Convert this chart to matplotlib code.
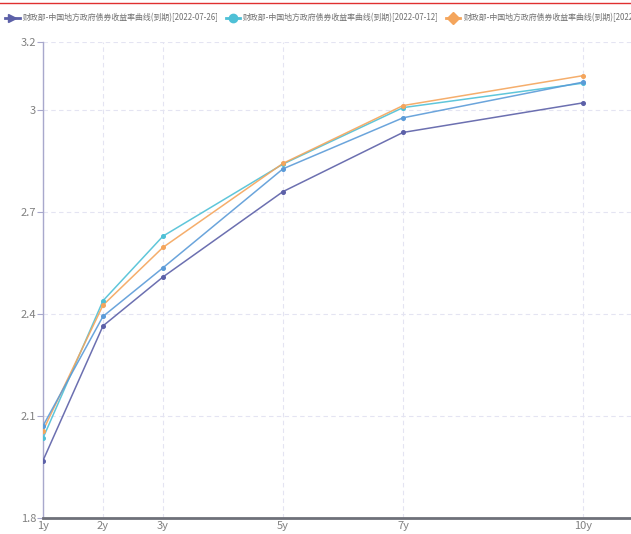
import numpy as np
import matplotlib
matplotlib.use("Agg")
import matplotlib.pyplot as plt
from matplotlib.lines import Line2D

plt.rcParams['font.family'] = ['Noto Sans CJK SC', 'DejaVu Sans']

# 地方政府债收益率曲线, 各期限 (年)
tenor = [1, 2, 3, 5, 7, 10]
tenor_labels = ['1y', '2y', '3y', '5y', '7y', '10y']

y_0726 = [1.969, 2.365, 2.509, 2.760, 2.934, 3.021]
y_0712 = [2.035, 2.439, 2.629, 2.841, 3.007, 3.079]
y_0627 = [2.057, 2.426, 2.596, 2.843, 3.013, 3.101]
y_0719 = [2.071, 2.393, 2.536, 2.827, 2.977, 3.082]

yticks = [1.8, 2.1, 2.4, 2.7, 3.0, 3.2]
ytick_labels = ['1.8', '2.1', '2.4', '2.7', '3', '3.2']

name = '财政部-中国地方政府债券收益率曲线(到期)'
series = [
    (y_0726, '[2022-07-26]', '#5c60a8', '>'),
    (y_0712, '[2022-07-12]', '#4ec0d6', 'o'),
    (y_0627, '[2022-06-27]', '#f4a55c', 'D'),
    (y_0719, '[2022-07-19]', '#5b9bd8', 's'),
]

fig = plt.figure(figsize=(6.31, 5.34), dpi=100)
ax = fig.add_axes([43 / 631, 16 / 534, 588 / 631, 476 / 534])

handles = []
for vals, date, col, mk in series:
    ax.plot(tenor, vals, color=col, lw=1.1, alpha=0.9, zorder=3)
    ax.plot(tenor, vals, ls='none', marker='o', ms=2.6, color=col, zorder=4)
    handles.append(Line2D([], [], color=col, lw=2, marker=mk, ms=6,
                          label=name + date))

ax.set_xlim(1, 10.8)
ax.set_ylim(1.8, 3.2)
ax.set_xticks(tenor)
ax.set_xticklabels(tenor_labels)
ax.set_yticks(yticks)
ax.set_yticklabels(ytick_labels)

ax.grid(True, ls=(0, (4, 3)), color='#e4e4f2', lw=0.8)
ax.set_axisbelow(True)

for s in ['top', 'right']:
    ax.spines[s].set_visible(False)
ax.spines['left'].set_color('#a8a8cc')
ax.spines['left'].set_linewidth(1)
ax.spines['bottom'].set_color('#6e7079')
ax.spines['bottom'].set_linewidth(2)

ax.tick_params(axis='y', length=4, width=0.8, color='#a8a8cc',
               labelsize=8, labelcolor='#808080', pad=1)
ax.tick_params(axis='x', length=0, labelsize=8, labelcolor='#808080', pad=2)

# 图例只放得下前三条, 第三条在右边被截断
fig.legend(handles=handles[:3], loc='upper left', bbox_to_anchor=(0.006, 0.978),
           ncol=3, frameon=False, fontsize=5.7, labelcolor='#707070',
           handlelength=1.8, handletextpad=0.4, columnspacing=0.9,
           borderaxespad=0, borderpad=0.2)

# 顶部红色分隔线
fig.add_artist(Line2D([0, 1], [1 - 2.5 / 534, 1 - 2.5 / 534],
                      transform=fig.transFigure, color='#e03030', lw=1))

fig.savefig('out.png', dpi=100)
